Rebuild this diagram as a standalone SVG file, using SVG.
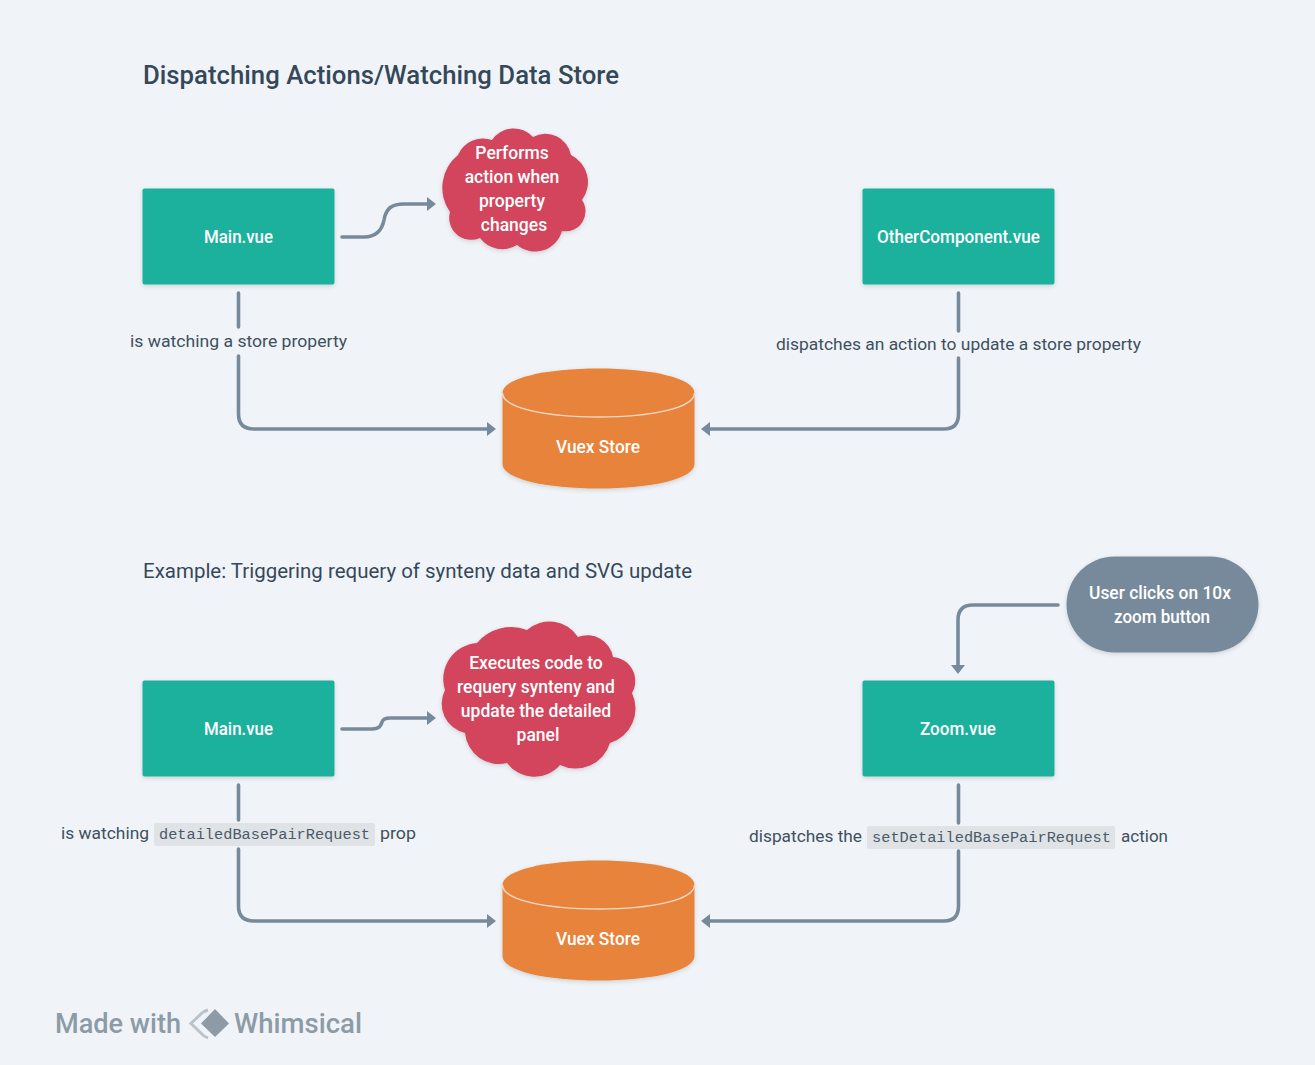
<svg xmlns="http://www.w3.org/2000/svg" width="1315" height="1065" viewBox="0 0 1315 1065">
<style>
text{font-family:Roboto,"Liberation Sans",sans-serif;}
.t{font-size:17.5px;fill:#fff;text-anchor:middle;font-weight:500}
.l{font-size:17px;fill:#3e5060}
.h{fill:#35485a}
.m{font-family:"Liberation Mono",monospace;font-size:15.3px;fill:#4a5a68}
.w{font-size:28px;fill:#8d9ba7;font-weight:500}
.c{fill:none;stroke:#778a9b;stroke-width:3.6;stroke-linecap:round;stroke-linejoin:round}
.a{fill:#778a9b}
.b{fill:#1ab19c}
.r{fill:#d2445c}
.o{fill:#e8833a}
.k{fill:#dfe3e6}
</style>
<defs>
<filter id="s" x="-10%" y="-10%" width="120%" height="125%"><feDropShadow dx="0" dy="1.5" stdDeviation="2" flood-color="#000" flood-opacity="0.15"/></filter>
</defs>
<rect width="1315" height="1065" fill="#f0f4f8"/>
<text class="h" x="143" y="84" font-size="25" font-weight="500" textLength="476" lengthAdjust="spacingAndGlyphs">Dispatching Actions/Watching Data Store</text>
<text class="h" x="143" y="578" font-size="20" textLength="549" lengthAdjust="spacingAndGlyphs">Example: Triggering requery of synteny data and SVG update</text>
<g id="connectors">
<path class="c" d="M342 237H364C376 237 382 230 384 220C386 208 392 204 404 204H428"/><path class="a" d="M427 197L436 204L427 211Z"/>
<path class="c" d="M238.500 293V327M238.500 356V414Q238.500 429 254 429H488"/><path class="a" d="M487 422L496 429L487 436Z"/>
<path class="c" d="M958.500 293V331M958.500 358V414Q958.500 429 944 429H709"/><path class="a" d="M710 422L701 429L710 436Z"/>
<path class="c" d="M342 729H372C380 729 381 725 382 722C383 719 385 718 390 718H428"/><path class="a" d="M427 711L436 718L427 725Z"/>
<path class="c" d="M238.500 785V820M238.500 849V906Q238.500 921 254 921H488"/><path class="a" d="M487 914L496 921L487 928Z"/>
<path class="c" d="M958.500 785V823M958.500 851V906Q958.500 921 944 921H709"/><path class="a" d="M710 914L701 921L710 928Z"/>
<path class="c" d="M1058 605H973Q958 605 958 620V666"/><path class="a" d="M951 665L958 674L965 665Z"/>
</g>
<g id="main-top"><rect class="b" x="142.500" y="188.500" width="192" height="96" rx="2" filter="url(#s)"/><text class="t" x="238.500" y="243" textLength="69" lengthAdjust="spacingAndGlyphs">Main.vue</text></g>
<g id="other-component"><rect class="b" x="862.500" y="188.500" width="192" height="96" rx="2" filter="url(#s)"/><text class="t" x="958.500" y="243" textLength="163" lengthAdjust="spacingAndGlyphs">OtherComponent.vue</text></g>
<g id="cloud-top"><path class="r" filter="url(#s)" d="M458 155A27 27 0 0 1 492 140A26 26 0 0 1 533 137A26 26 0 0 1 571 155A30 30 0 0 1 582 200A20 20 0 0 1 562 231A28 28 0 0 1 517 245A28 28 0 0 1 480 238A22 22 0 0 1 450 212A42 42 0 0 1 458 155Z"/>
<text class="t"><tspan x="512" y="159">Performs</tspan><tspan x="512" y="183">action when</tspan><tspan x="512" y="207">property</tspan><tspan x="514" y="231">changes</tspan></text></g>
<g id="store-top"><path class="o" filter="url(#s)" d="M502.500 393C502.500 378 546 368.500 598.500 368.500C651 368.500 694.500 378 694.500 393V464C694.500 479 651 488.500 598.500 488.500C546 488.500 502.500 479 502.500 464Z"/><path d="M502.500 393C502.500 408 546 417 598.500 417C651 417 694.500 408 694.500 393" fill="none" stroke="#f0d9c6" stroke-width="1.500"/><text class="t" x="598" y="453" textLength="84" lengthAdjust="spacingAndGlyphs">Vuex Store</text></g>
<text class="l" x="130" y="347" textLength="217" lengthAdjust="spacingAndGlyphs">is watching a store property</text>
<text class="l" x="776" y="350" textLength="365" lengthAdjust="spacingAndGlyphs">dispatches an action to update a store property</text>
<g id="main-bottom"><rect class="b" x="142.500" y="680.500" width="192" height="96" rx="2" filter="url(#s)"/><text class="t" x="238.500" y="735" textLength="69" lengthAdjust="spacingAndGlyphs">Main.vue</text></g>
<g id="zoom"><rect class="b" x="862.500" y="680.500" width="192" height="96" rx="2" filter="url(#s)"/><text class="t" x="958" y="735" textLength="76" lengthAdjust="spacingAndGlyphs">Zoom.vue</text></g>
<g id="user-clicks"><rect x="1066.500" y="556.500" width="192" height="96" rx="48" fill="#778a9b" filter="url(#s)"/><text class="t"><tspan x="1160" y="599" textLength="142" lengthAdjust="spacingAndGlyphs">User clicks on 10x</tspan><tspan x="1162" y="623" textLength="96" lengthAdjust="spacingAndGlyphs">zoom button</tspan></text></g>
<g id="cloud-bottom"><path class="r" filter="url(#s)" d="M477 643A45 45 0 0 1 527 630A34 34 0 0 1 578 637A26 26 0 0 1 613 657A24 24 0 0 1 632 693A36 36 0 0 1 610 743A36 36 0 0 1 560 765A34 34 0 0 1 507 763A34 34 0 0 1 465 733A30 30 0 0 1 445 690A36 36 0 0 1 477 643Z"/>
<text class="t"><tspan x="536" y="669">Executes code to</tspan><tspan x="536" y="693">requery synteny and</tspan><tspan x="536" y="717">update the detailed</tspan><tspan x="538" y="741">panel</tspan></text></g>
<g id="store-bottom"><path class="o" filter="url(#s)" d="M502.500 885C502.500 870 546 860.500 598.500 860.500C651 860.500 694.500 870 694.500 885V956C694.500 971 651 980.500 598.500 980.500C546 980.500 502.500 971 502.500 956Z"/><path d="M502.500 885C502.500 900 546 909 598.500 909C651 909 694.500 900 694.500 885" fill="none" stroke="#f0d9c6" stroke-width="1.500"/><text class="t" x="598" y="945" textLength="84" lengthAdjust="spacingAndGlyphs">Vuex Store</text></g>
<g id="label-watch">
<rect class="k" x="154" y="823" width="221" height="23" rx="2"/>
<text class="l" x="61" y="839" textLength="88" lengthAdjust="spacingAndGlyphs">is watching</text>
<text class="m" x="159" y="839" textLength="211">detailedBasePairRequest</text>
<text class="l" x="380" y="839" textLength="36" lengthAdjust="spacingAndGlyphs">prop</text>
</g>
<g id="label-dispatch">
<rect class="k" x="867" y="826" width="248" height="23" rx="2"/>
<text class="l" x="749" y="842" textLength="113" lengthAdjust="spacingAndGlyphs">dispatches the</text>
<text class="m" x="872" y="842" textLength="239">setDetailedBasePairRequest</text>
<text class="l" x="1121" y="842" textLength="47" lengthAdjust="spacingAndGlyphs">action</text>
</g>
<g id="watermark">
<text class="w" x="55" y="1033" textLength="126" lengthAdjust="spacingAndGlyphs">Made with</text>
<path d="M203 1012L191 1023.500L204 1036" fill="none" stroke="#b9c3cb" stroke-width="3"/><path d="M203 1012L208 1010M204 1036L208 1038" fill="none" stroke="#b9c3cb" stroke-width="3"/>
<path d="M215 1009L229 1023.500L215 1037L201 1023.500Z" fill="#8d9ba7"/>
<text class="w" x="234" y="1033" textLength="128" lengthAdjust="spacingAndGlyphs">Whimsical</text>
</g>
</svg>
